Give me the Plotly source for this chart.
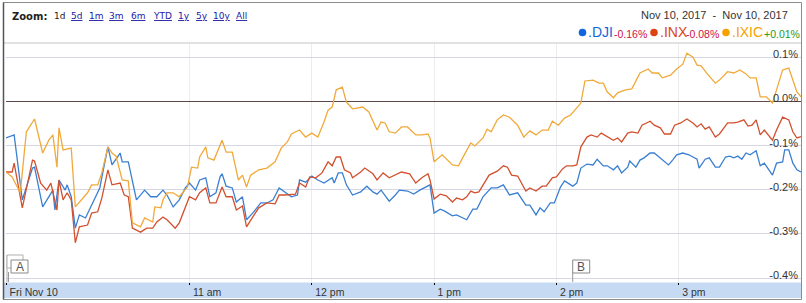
import plotly.graph_objects as go
import pandas as pd

# ---------------- data ----------------
SESSION_OPEN = "2017-11-10 09:30"
SESSION_CLOSE = "2017-11-10 16:00"

# minutes after 09:30 and % change vs previous close
dji_min = [0, 4, 8, 13, 14, 18, 23, 24, 26, 29,
           30, 32, 34, 36, 39, 43, 46, 48, 50, 52,
           56, 57, 60, 64, 68, 71, 74, 77, 79, 82,
           85, 88, 90, 93, 95, 98, 100, 103, 105, 106,
           108, 111, 113, 116, 118, 121, 125, 128, 131, 134,
           137, 140, 143, 144, 147, 150, 153, 156, 160, 161,
           163, 165, 167, 170, 174, 177, 180, 182, 184, 188,
           191, 193, 197, 200, 203, 207, 208, 210, 213, 215,
           219, 221, 224, 226, 229, 231, 234, 238, 241, 244,
           247, 251, 255, 257, 260, 262, 264, 267, 269, 272,
           274, 278, 280, 282, 285, 288, 290, 293, 295, 298,
           300, 302, 305, 306, 309, 311, 313, 316, 318, 322,
           325, 327, 329, 332, 335, 339, 340, 343, 345, 348,
           350, 353, 355, 357, 359, 361, 363, 365, 368, 370,
           372, 376, 378, 381, 382, 384, 386, 388, 390]
dji_pct = [-0.083, -0.076, -0.223, -0.151, -0.149, -0.239, -0.201, -0.246, -0.178, -0.201,
           -0.189, -0.216, -0.287, -0.257, -0.264, -0.223, -0.196, -0.149, -0.103, -0.144,
           -0.117, -0.137, -0.137, -0.223, -0.201, -0.216, -0.216, -0.201, -0.212, -0.239,
           -0.223, -0.196, -0.185, -0.201, -0.178, -0.173, -0.216, -0.207, -0.171, -0.164,
           -0.192, -0.196, -0.228, -0.216, -0.268, -0.253, -0.230, -0.230, -0.223, -0.196,
           -0.207, -0.216, -0.212, -0.178, -0.183, -0.169, -0.178, -0.185, -0.173, -0.185,
           -0.162, -0.162, -0.189, -0.212, -0.205, -0.192, -0.205, -0.210, -0.201, -0.226,
           -0.212, -0.201, -0.203, -0.210, -0.201, -0.192, -0.189, -0.253, -0.244, -0.248,
           -0.259, -0.257, -0.264, -0.268, -0.244, -0.244, -0.216, -0.196, -0.196, -0.189,
           -0.212, -0.207, -0.235, -0.235, -0.257, -0.241, -0.250, -0.230, -0.230, -0.194,
           -0.180, -0.192, -0.185, -0.151, -0.142, -0.144, -0.131, -0.146, -0.146, -0.155,
           -0.146, -0.162, -0.149, -0.135, -0.149, -0.133, -0.128, -0.117, -0.117, -0.133,
           -0.144, -0.133, -0.121, -0.117, -0.121, -0.131, -0.151, -0.131, -0.128, -0.149,
           -0.149, -0.126, -0.124, -0.128, -0.124, -0.131, -0.117, -0.121, -0.112, -0.146,
           -0.140, -0.167, -0.140, -0.137, -0.110, -0.110, -0.140, -0.155, -0.160]

inx_min = [0, 3, 4, 8, 13, 14, 17, 20, 22, 25,
           26, 28, 30, 32, 34, 36, 40, 42, 45, 47,
           50, 52, 56, 58, 60, 62, 66, 69, 72, 74,
           77, 79, 83, 85, 90, 93, 95, 98, 100, 103,
           106, 108, 111, 113, 116, 118, 121, 124, 128, 132,
           134, 137, 142, 144, 147, 149, 152, 155, 158, 160,
           162, 164, 166, 169, 170, 174, 176, 180, 182, 185,
           188, 194, 198, 201, 204, 207, 208, 210, 213, 216,
           219, 221, 224, 226, 228, 230, 232, 235, 237, 241,
           244, 246, 248, 251, 255, 257, 260, 263, 265, 268,
           270, 273, 275, 278, 280, 282, 285, 287, 290, 292,
           295, 298, 300, 302, 305, 307, 310, 312, 316, 318,
           321, 323, 326, 328, 331, 334, 337, 339, 341, 343,
           345, 348, 350, 354, 357, 359, 362, 364, 366, 368,
           370, 372, 376, 378, 381, 384, 386, 388, 390]
inx_pct = [-0.160, -0.160, -0.140, -0.241, -0.133, -0.135, -0.185, -0.201, -0.185, -0.246,
           -0.178, -0.223, -0.207, -0.223, -0.320, -0.284, -0.280, -0.253, -0.250, -0.219,
           -0.155, -0.189, -0.185, -0.212, -0.216, -0.287, -0.296, -0.287, -0.287, -0.273,
           -0.262, -0.268, -0.287, -0.275, -0.216, -0.223, -0.207, -0.196, -0.230, -0.230,
           -0.194, -0.216, -0.216, -0.246, -0.237, -0.284, -0.262, -0.241, -0.230, -0.232,
           -0.212, -0.212, -0.210, -0.185, -0.194, -0.171, -0.173, -0.162, -0.137, -0.146,
           -0.126, -0.126, -0.155, -0.162, -0.173, -0.160, -0.151, -0.164, -0.178, -0.162,
           -0.173, -0.160, -0.164, -0.185, -0.173, -0.164, -0.178, -0.221, -0.210, -0.214,
           -0.228, -0.219, -0.223, -0.216, -0.203, -0.207, -0.205, -0.183, -0.167, -0.158,
           -0.146, -0.149, -0.167, -0.169, -0.203, -0.196, -0.203, -0.192, -0.192, -0.173,
           -0.171, -0.153, -0.146, -0.146, -0.144, -0.103, -0.081, -0.076, -0.081, -0.072,
           -0.081, -0.088, -0.083, -0.092, -0.072, -0.069, -0.072, -0.054, -0.045, -0.054,
           -0.060, -0.074, -0.074, -0.054, -0.049, -0.040, -0.049, -0.058, -0.051, -0.063,
           -0.058, -0.081, -0.074, -0.049, -0.049, -0.047, -0.042, -0.056, -0.054, -0.042,
           -0.076, -0.065, -0.088, -0.065, -0.036, -0.042, -0.069, -0.083, -0.080]

ixic_min = [0, 3, 7, 10, 14, 18, 21, 23, 25, 26,
            28, 32, 34, 37, 40, 42, 45, 47, 50, 52,
            54, 57, 60, 62, 66, 68, 72, 73, 76, 77,
            79, 82, 85, 89, 91, 94, 95, 98, 99, 102,
            106, 108, 111, 114, 116, 118, 120, 124, 128, 132,
            135, 138, 140, 144, 147, 150, 153, 156, 158, 160,
            162, 165, 167, 170, 175, 178, 182, 184, 186, 188,
            191, 194, 197, 201, 204, 207, 208, 210, 214, 219,
            222, 224, 228, 230, 234, 236, 238, 241, 244, 247,
            251, 254, 257, 260, 263, 266, 268, 271, 274, 277,
            280, 282, 284, 288, 291, 293, 295, 298, 300, 304,
            307, 311, 315, 317, 320, 322, 326, 329, 332, 334,
            337, 339, 341, 344, 348, 350, 354, 357, 360, 363,
            365, 368, 370, 373, 376, 378, 381, 384, 386, 388,
            390]
ixic_pct = [-0.160, -0.171, -0.207, -0.069, -0.040, -0.117, -0.088, -0.076, -0.149, -0.060,
            -0.110, -0.106, -0.239, -0.223, -0.207, -0.189, -0.189, -0.162, -0.103, -0.117,
            -0.124, -0.178, -0.180, -0.275, -0.284, -0.264, -0.273, -0.239, -0.241, -0.223,
            -0.207, -0.207, -0.216, -0.194, -0.149, -0.151, -0.126, -0.103, -0.128, -0.133,
            -0.088, -0.115, -0.115, -0.178, -0.167, -0.194, -0.167, -0.155, -0.151, -0.137,
            -0.106, -0.092, -0.074, -0.065, -0.081, -0.072, -0.081, -0.047, -0.020, -0.013,
            0.026, 0.032, -0.002, -0.017, -0.013, -0.024, -0.065, -0.047, -0.049, -0.069,
            -0.072, -0.058, -0.058, -0.076, -0.076, -0.074, -0.083, -0.137, -0.121, -0.144,
            -0.146, -0.128, -0.094, -0.101, -0.083, -0.063, -0.069, -0.042, -0.031, -0.036,
            -0.054, -0.081, -0.067, -0.076, -0.065, -0.065, -0.045, -0.054, -0.038, -0.031,
            -0.015, -0.004, 0.046, 0.048, 0.041, 0.041, 0.021, 0.008, 0.019, 0.026,
            0.028, 0.064, 0.073, 0.064, 0.064, 0.053, 0.059, 0.073, 0.084, 0.109,
            0.100, 0.082, 0.080, 0.062, 0.041, 0.048, 0.067, 0.064, 0.071, 0.062,
            0.053, 0.053, 0.010, 0.010, -0.004, 0.026, 0.071, 0.075, 0.048, 0.021,
            0.010]

series_names = [".DJI", ".INX", ".IXIC"]
series_change = ["-0.16%", "-0.08%", "+0.01%"]

x_tick_times = ["09:30", "11:00", "12:00", "13:00", "14:00", "15:00"]
x_tick_labels = ["Fri Nov 10", "11 am", "12 pm", "1 pm", "2 pm", "3 pm"]
y_tick_values = [0.1, 0.0, -0.1, -0.2, -0.3, -0.4]
y_tick_labels = ["0.1%", "0.0%", "-0.1%", "-0.2%", "-0.3%", "-0.4%"]

event_labels = ["A", "B"]
event_times = ["09:30", "14:08"]

zoom_title = "Zoom:"
zoom_options = ["1d", "5d", "1m", "3m", "6m", "YTD", "1y", "5y", "10y", "All"]
date_range_text = "Nov 10, 2017  -  Nov 10, 2017"

# ---------------- styling ----------------
W, H = 806, 303
ML, MR, MT, MB = 6, 5, 43, 21
PW = W - ML - MR
PH = H - MT - MB

line_colors = ["#3a7fd2", "#d2502e", "#f1a93a"]
dot_colors = ["#1166dd", "#dd4411", "#f5a100"]
change_colors = ["#cc1144", "#cc1144", "#229922"]
FONT = "Liberation Sans, Arial, sans-serif"
VFONT = "DejaVu Sans, Verdana, sans-serif"


def px_x(px):
    return (px - ML) / PW


def px_y(py):
    return (H - MB - py) / PH


open_ts = pd.Timestamp(SESSION_OPEN)


def to_time(mins):
    return [open_ts + pd.Timedelta(minutes=m) for m in mins]


def hhmm(s):
    return pd.Timestamp("2017-11-10 " + s)


fig = go.Figure()
for mins, vals, name, col in [(dji_min, dji_pct, series_names[0], line_colors[0]),
                              (inx_min, inx_pct, series_names[1], line_colors[1]),
                              (ixic_min, ixic_pct, series_names[2], line_colors[2])]:
    fig.add_trace(go.Scatter(x=to_time(mins), y=vals, mode="lines", name=name,
                             line=dict(color=col, width=1.3), hoverinfo="skip"))

shapes = []
annotations = []

# bottom time band
shapes.append(dict(type="rect", xref="paper", yref="paper", x0=px_x(4), x1=px_x(801),
                   y0=px_y(298), y1=px_y(282.5), fillcolor="#c6dbf3", line_width=0, layer="below"))
# header separator
shapes.append(dict(type="line", xref="paper", yref="paper", x0=px_x(4), x1=px_x(801),
                   y0=1, y1=1, line=dict(color="#c4c4c4", width=1)))
# outer frame
shapes.append(dict(type="rect", xref="paper", yref="paper", x0=px_x(3.5), x1=px_x(801.5),
                   y0=px_y(299.5), y1=px_y(2.5), line=dict(color="#8c8c8c", width=1)))
shapes.append(dict(type="line", xref="paper", yref="paper", x0=px_x(3.5), x1=px_x(3.5),
                   y0=px_y(299.5), y1=px_y(2.5), line=dict(color="#555555", width=1.5)))

# event flags
for lab, t in zip(event_labels, event_times):
    ts = hhmm(t)
    if lab == "A":
        shapes.append(dict(type="line", xref="x", yref="paper", xsizemode="pixel", ysizemode="pixel",
                           xanchor=ts, yanchor=0, x0=1, x1=1, y0=0, y1=27,
                           line=dict(color="#aaaaaa", width=1)))
        shapes.append(dict(type="rect", xref="x", yref="paper", xsizemode="pixel", ysizemode="pixel",
                           xanchor=ts, yanchor=0, x0=1, x1=17, y0=14, y1=27,
                           line=dict(color="#b0b0b0", width=1), fillcolor="white"))
        shapes.append(dict(type="line", xref="x", yref="paper", xsizemode="pixel", ysizemode="pixel",
                           xanchor=ts, yanchor=0, x0=2.5, x1=2.5, y0=0, y1=10,
                           line=dict(color="#999999", width=1)))
        bx0, bx1 = 5, 22
    else:
        bx0, bx1 = 0, 17
        shapes.append(dict(type="line", xref="x", yref="paper", xsizemode="pixel", ysizemode="pixel",
                           xanchor=ts, yanchor=0, x0=0, x1=0, y0=0, y1=10,
                           line=dict(color="#999999", width=1)))
    shapes.append(dict(type="rect", xref="x", yref="paper", xsizemode="pixel", ysizemode="pixel",
                       xanchor=ts, yanchor=0, x0=bx0, x1=bx1, y0=9, y1=22,
                       line=dict(color="#8a8a8a", width=1), fillcolor="white"))
    annotations.append(dict(x=ts, xref="x", y=0, yref="paper", xshift=(bx0 + bx1) / 2, yshift=15.5,
                            text=lab, showarrow=False, xanchor="center", yanchor="middle",
                            font=dict(family=FONT, size=12, color="#555555")))

# zoom row
zoom_x = [52, 69, 87, 107, 129, 151, 176, 194, 211, 234]
annotations.append(dict(x=px_x(10), y=px_y(16), xref="paper", yref="paper", text="<b>" + zoom_title + "</b>",
                        showarrow=False, xanchor="left", yanchor="middle",
                        font=dict(family=VFONT, size=10, color="#222222")))
for i, (zx, zo) in enumerate(zip(zoom_x, zoom_options)):
    if i == 0:
        txt = zo
        col = "#222222"
    else:
        txt = "<span style='text-decoration:underline'>" + zo + "</span>"
        col = "#1a1aa6"
    annotations.append(dict(x=px_x(zx), y=px_y(16), xref="paper", yref="paper", text=txt,
                            showarrow=False, xanchor="left", yanchor="middle",
                            font=dict(family=VFONT, size=9, color=col)))

# date range
annotations.append(dict(x=px_x(790), y=px_y(15), xref="paper", yref="paper", text=date_range_text,
                        showarrow=False, xanchor="right", yanchor="middle",
                        font=dict(family=FONT, size=11, color="#333333")))

# legend row
dot_x = [582.5, 654, 726]
name_x = [586, 658, 730]
chg_x = [612, 684, 762]
for i in range(3):
    shapes.append(dict(type="circle", xref="paper", yref="paper", xsizemode="pixel", ysizemode="pixel",
                       xanchor=px_x(dot_x[i]), yanchor=px_y(32.5), x0=-3.8, x1=3.8, y0=-3.8, y1=3.8,
                       fillcolor=dot_colors[i], line_width=0))
    annotations.append(dict(x=px_x(name_x[i]), y=px_y(31.5), xref="paper", yref="paper", text=series_names[i],
                            showarrow=False, xanchor="left", yanchor="middle",
                            font=dict(family=FONT, size=14, color=dot_colors[i])))
    annotations.append(dict(x=px_x(chg_x[i]), y=px_y(34.5), xref="paper", yref="paper", text=series_change[i],
                            showarrow=False, xanchor="left", yanchor="middle",
                            font=dict(family=FONT, size=10.5, color=change_colors[i])))

fig.update_layout(
    width=W, height=H,
    margin=dict(l=ML, r=MR, t=MT, b=MB, pad=0),
    paper_bgcolor="white", plot_bgcolor="white",
    showlegend=False,
    shapes=shapes, annotations=annotations,
    hovermode=False,
    xaxis=dict(type="date", range=[SESSION_OPEN, SESSION_CLOSE],
               tickvals=[hhmm(t) for t in x_tick_times], ticktext=x_tick_labels,
               ticklabelposition="outside right", ticklabelshift=3,
               ticks="outside", ticklen=2, tickwidth=1,
               tickcolor="#000000", showgrid=True, gridcolor="#ececec", gridwidth=1,
               zeroline=False, showline=False,
               tickfont=dict(family=FONT, size=10.5, color="#333333")),
    yaxis=dict(range=[(101.3 - 282) / 442, (101.3 - 43) / 442], side="right",
               tickvals=y_tick_values, ticktext=y_tick_labels,
               ticklabelposition="inside top", ticklabelshift=5, ticks="",
               showgrid=True, gridcolor="#d6d6e4", gridwidth=1,
               zeroline=True, zerolinecolor="#5e4848", zerolinewidth=1, showline=False,
               tickfont=dict(family=FONT, size=11, color="#333333")),
)

fig.write_html("out.html")
